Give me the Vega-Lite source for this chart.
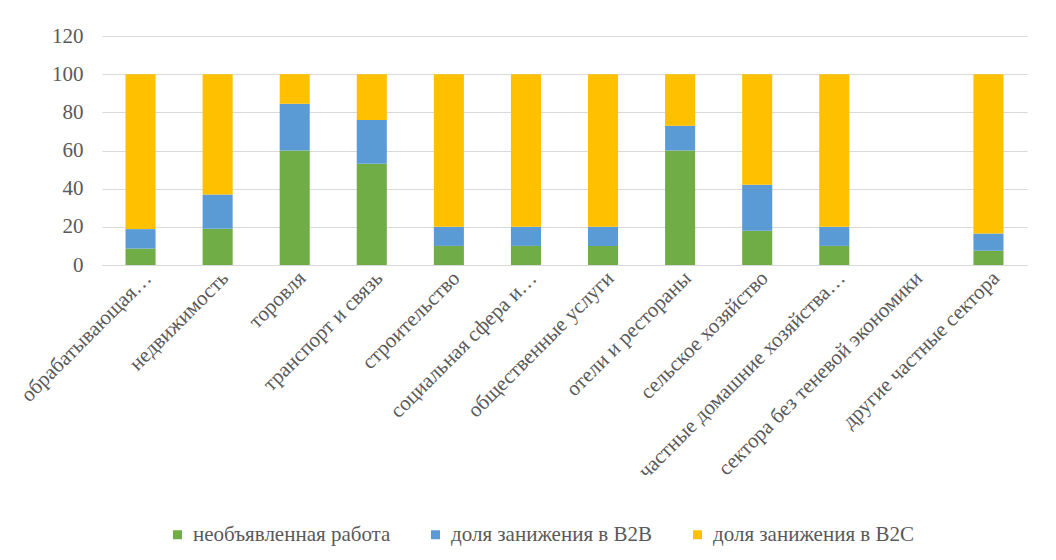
{
  "$schema": "https://vega.github.io/schema/vega-lite/v6.json",
  "autosize": {"type": "none"},
  "width": 925,
  "height": 229,
  "padding": {"left": 102, "top": 36, "right": 29, "bottom": 295},
  "background": "white",
  "config": {
    "font": "Liberation Serif",
    "view": {"stroke": null},
    "axis": {"labelFont": "Liberation Serif", "labelFontSize": 21, "labelColor": "#595959"},
    "legend": {"labelFont": "Liberation Serif", "labelFontSize": 21, "labelColor": "#595959", "labelLimit": 400}
  },
  "data": {
    "values": [
      {"cat": "обрабатывающая…", "s": "необъявленная работа", "k": 1, "v": 8.6},
      {"cat": "обрабатывающая…", "s": "доля занижения в B2B", "k": 2, "v": 10.2},
      {"cat": "обрабатывающая…", "s": "доля занижения в B2C", "k": 3, "v": 81.2},
      {"cat": "недвижимость", "s": "необъявленная работа", "k": 1, "v": 19},
      {"cat": "недвижимость", "s": "доля занижения в B2B", "k": 2, "v": 18},
      {"cat": "недвижимость", "s": "доля занижения в B2C", "k": 3, "v": 63},
      {"cat": "торовля", "s": "необъявленная работа", "k": 1, "v": 60},
      {"cat": "торовля", "s": "доля занижения в B2B", "k": 2, "v": 24.5},
      {"cat": "торовля", "s": "доля занижения в B2C", "k": 3, "v": 15.5},
      {"cat": "транспорт и связь", "s": "необъявленная работа", "k": 1, "v": 53},
      {"cat": "транспорт и связь", "s": "доля занижения в B2B", "k": 2, "v": 23},
      {"cat": "транспорт и связь", "s": "доля занижения в B2C", "k": 3, "v": 24},
      {"cat": "строительство", "s": "необъявленная работа", "k": 1, "v": 10},
      {"cat": "строительство", "s": "доля занижения в B2B", "k": 2, "v": 10},
      {"cat": "строительство", "s": "доля занижения в B2C", "k": 3, "v": 80},
      {"cat": "социальная сфера и…", "s": "необъявленная работа", "k": 1, "v": 10},
      {"cat": "социальная сфера и…", "s": "доля занижения в B2B", "k": 2, "v": 10},
      {"cat": "социальная сфера и…", "s": "доля занижения в B2C", "k": 3, "v": 80},
      {"cat": "общественные услуги", "s": "необъявленная работа", "k": 1, "v": 10},
      {"cat": "общественные услуги", "s": "доля занижения в B2B", "k": 2, "v": 10},
      {"cat": "общественные услуги", "s": "доля занижения в B2C", "k": 3, "v": 80},
      {"cat": "отели и рестораны", "s": "необъявленная работа", "k": 1, "v": 60},
      {"cat": "отели и рестораны", "s": "доля занижения в B2B", "k": 2, "v": 13},
      {"cat": "отели и рестораны", "s": "доля занижения в B2C", "k": 3, "v": 27},
      {"cat": "сельское хозяйство", "s": "необъявленная работа", "k": 1, "v": 18},
      {"cat": "сельское хозяйство", "s": "доля занижения в B2B", "k": 2, "v": 24},
      {"cat": "сельское хозяйство", "s": "доля занижения в B2C", "k": 3, "v": 58},
      {"cat": "частные домашние хозяйства…", "s": "необъявленная работа", "k": 1, "v": 10},
      {"cat": "частные домашние хозяйства…", "s": "доля занижения в B2B", "k": 2, "v": 10},
      {"cat": "частные домашние хозяйства…", "s": "доля занижения в B2C", "k": 3, "v": 80},
      {"cat": "сектора без теневой экономики", "s": "необъявленная работа", "k": 1, "v": 0},
      {"cat": "сектора без теневой экономики", "s": "доля занижения в B2B", "k": 2, "v": 0},
      {"cat": "сектора без теневой экономики", "s": "доля занижения в B2C", "k": 3, "v": 0},
      {"cat": "другие частные сектора", "s": "необъявленная работа", "k": 1, "v": 7.5},
      {"cat": "другие частные сектора", "s": "доля занижения в B2B", "k": 2, "v": 9},
      {"cat": "другие частные сектора", "s": "доля занижения в B2C", "k": 3, "v": 83.5}
    ]
  },
  "mark": {"type": "bar"},
  "encoding": {
    "x": {
      "field": "cat", "type": "nominal", "sort": null,
      "scale": {"paddingInner": 0.61, "paddingOuter": 0.305},
      "axis": {"title": null, "labelAngle": -45, "ticks": false, "domainColor": "#d9d9d9", "domainWidth": 1, "labelPadding": 2, "labelLimit": 400}
    },
    "y": {
      "field": "v", "type": "quantitative", "stack": "zero",
      "scale": {"domain": [0, 120], "nice": false},
      "axis": {"title": null, "values": [0, 20, 40, 60, 80, 100, 120], "domain": false, "ticks": false, "tickSize": 0, "labelPadding": 19, "gridColor": "#d9d9d9", "gridWidth": 1}
    },
    "color": {
      "field": "s", "type": "nominal",
      "scale": {"domain": ["необъявленная работа", "доля занижения в B2B", "доля занижения в B2C"], "range": ["#70AD47", "#5B9BD5", "#FFC000"]},
      "legend": {"title": null, "orient": "none", "legendX": 65, "legendY": 488, "direction": "horizontal", "columns": 3, "columnPadding": 34, "symbolType": "square", "symbolSize": 81, "symbolStrokeWidth": 0, "labelOffset": 5, "padding": 0}
    },
    "order": {"field": "k", "type": "quantitative"}
  }
}
